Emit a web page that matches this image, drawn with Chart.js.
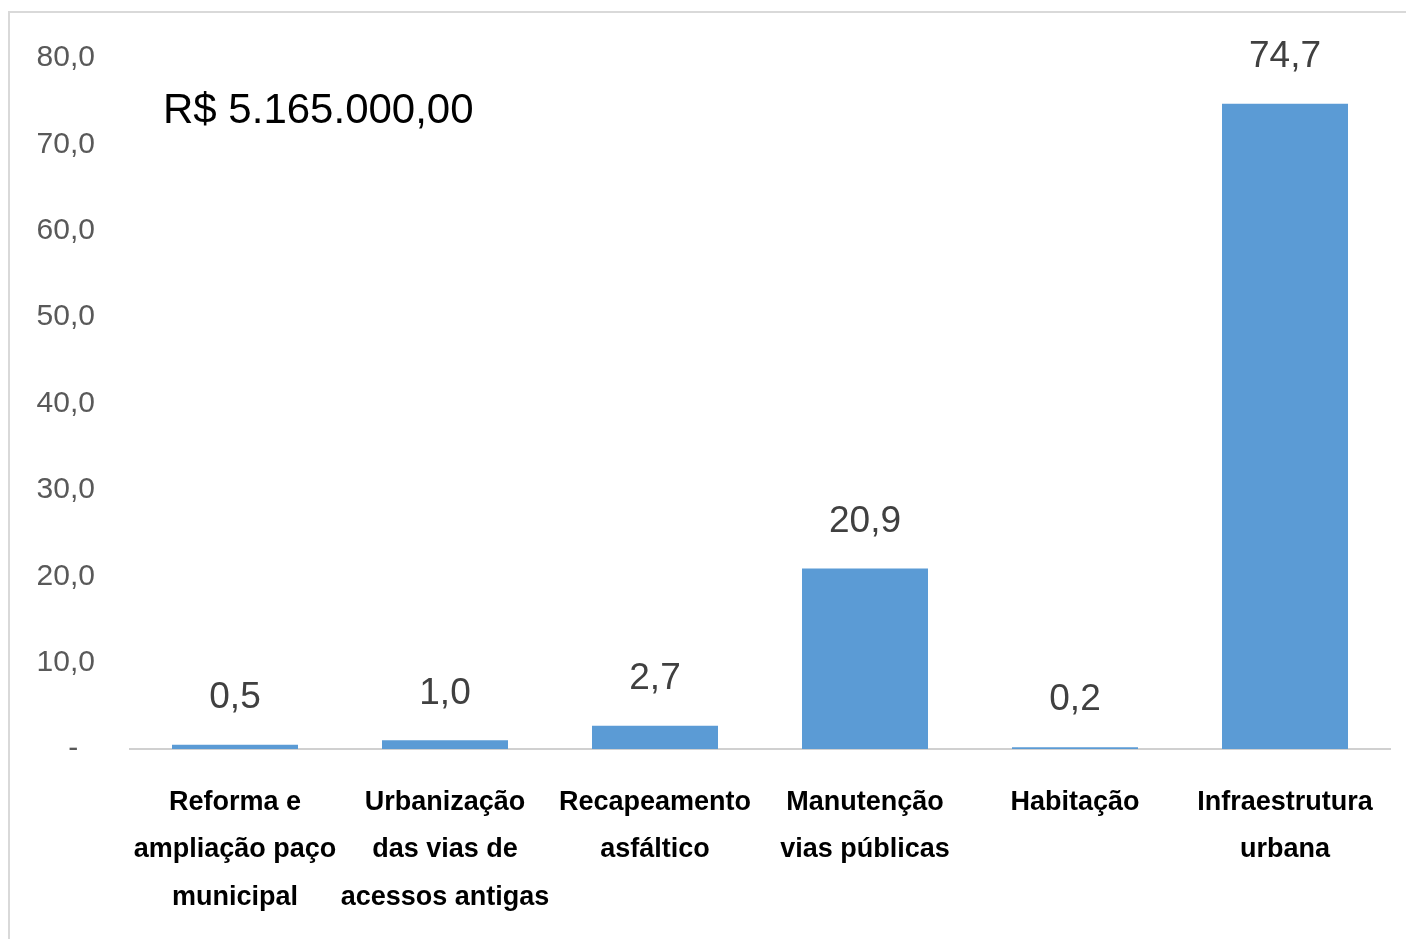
<!DOCTYPE html>
<html>
<head>
<meta charset="utf-8">
<script src="https://cdn.jsdelivr.net/npm/chart.js@4.4.0/dist/chart.umd.min.js"></script>
<style>
    html, body { margin: 0; padding: 0; background: #ffffff; overflow: hidden; }
    #wrap { width: 1406px; height: 939px; position: relative; }
    #chart { display: block; }
</style>
</head>
<body>
<div id="wrap"><canvas id="chart"></canvas></div>
<script>
// Chart data
const categories = [
    ['Reforma e', 'ampliação paço', 'municipal'],
    ['Urbanização', 'das vias de', 'acessos antigas'],
    ['Recapeamento', 'asfáltico'],
    ['Manutenção', 'vias públicas'],
    ['Habitação'],
    ['Infraestrutura', 'urbana']
];
const percentValues = [0.5, 1.0, 2.7, 20.9, 0.2, 74.7];
const yTicks = [0, 10, 20, 30, 40, 50, 60, 70, 80];
const totalLabel = 'R$ 5.165.000,00';

const FONT = '"Liberation Sans", Arial, sans-serif';

function fmt(v) {
    return v.toFixed(1).replace('.', ',');
}

/**
 * Outer frame, total amount text and value labels over each bar
 */
const decorPlugin = {
    id: 'decor',
    afterDraw(chart) {
        const ctx = chart.ctx;
        ctx.save();
        ctx.strokeStyle = '#d9d9d9';
        ctx.lineWidth = 2;
        ctx.strokeRect(9, 12, 1420, 1000);

        ctx.fillStyle = '#000000';
        ctx.font = '42px ' + FONT;
        ctx.textAlign = 'left';
        ctx.textBaseline = 'middle';
        ctx.fillText(totalLabel, 163, 111);

        const meta = chart.getDatasetMeta(0);
        ctx.fillStyle = '#404040';
        ctx.font = '37px ' + FONT;
        ctx.textAlign = 'center';
        meta.data.forEach((bar, i) => {
            ctx.fillText(fmt(percentValues[i]), bar.x, bar.y - 47);
        });
        ctx.restore();
    }
};

const ctx = document.getElementById('chart').getContext('2d');
new Chart(ctx, {
    type: 'bar',
    data: {
        labels: categories,
        datasets: [{
            data: percentValues,
            backgroundColor: '#5b9bd5',
            borderWidth: 0,
            barPercentage: 0.75,
            categoryPercentage: 0.8
        }]
    },
    options: {
        responsive: true,
        maintainAspectRatio: false,
        animation: false,
        layout: { padding: { top: 58, right: 16, left: 0, bottom: 0 } },
        plugins: {
            legend: { display: false },
            tooltip: { enabled: false }
        },
        scales: {
            x: {
                grid: { display: false, drawTicks: false },
                border: { display: true, color: '#d0d0d0', width: 2 },
                ticks: {
                    color: '#000000',
                    padding: 30,
                    maxRotation: 0,
                    autoSkip: false,
                    font: { family: FONT, size: 27, weight: 'bold', lineHeight: 1.75 }
                },
                afterFit: scale => { scale.height = 190; }
            },
            y: {
                min: 0,
                max: 80,
                grid: { display: false, drawTicks: false },
                border: { display: false },
                afterBuildTicks: scale => { scale.ticks = yTicks.map(v => ({ value: v })); },
                ticks: {
                    color: '#595959',
                    padding: 35,
                    font: { family: FONT, size: 30 },
                    callback: v => (v === 0 ? '-  ' : fmt(v))
                },
                afterFit: scale => { scale.width = 130; }
            }
        }
    },
    plugins: [decorPlugin]
});
</script>
</body>
</html>
